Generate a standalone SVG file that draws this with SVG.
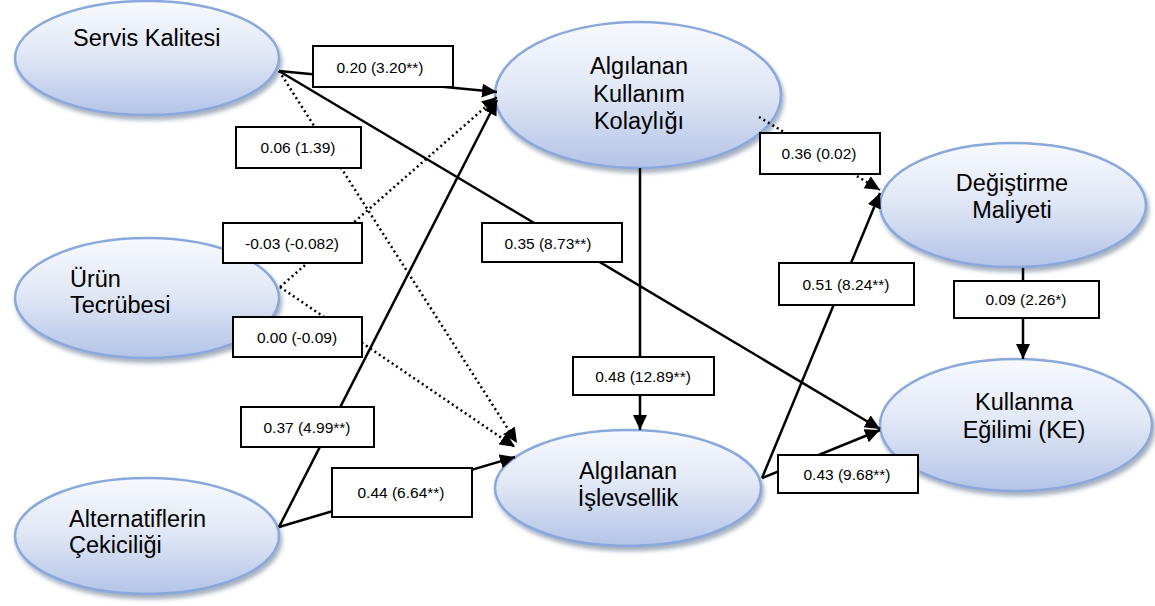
<svg xmlns="http://www.w3.org/2000/svg" width="1155" height="606" viewBox="0 0 1155 606">
<defs>
<linearGradient id="g" x1="0" y1="0" x2="0" y2="1">
<stop offset="0" stop-color="#f7f9fd"/>
<stop offset="0.45" stop-color="#e2e8f6"/>
<stop offset="1" stop-color="#b3c4e7"/>
</linearGradient>
<filter id="sh" x="-10%" y="-10%" width="125%" height="130%">
<feDropShadow dx="2" dy="4" stdDeviation="2" flood-color="#5f6f8a" flood-opacity="0.55"/>
</filter>
<marker id="ah" markerUnits="userSpaceOnUse" markerWidth="16" markerHeight="15" refX="15" refY="7" orient="auto" viewBox="0 0 16 15">
<path d="M0,0 L15,7 L0,14 z" fill="#000"/>
</marker>
</defs>
<style>
.n{fill:url(#g);stroke:#8aa8dc;stroke-width:2.5;filter:url(#sh)}
.t{font-family:"Liberation Sans",Arial,sans-serif;font-size:23.5px;fill:#000}
.c{text-anchor:middle}
.s{fill:none;stroke:#000;stroke-width:2.5;marker-end:url(#ah)}
.d{fill:none;stroke:#000;stroke-width:2.5;stroke-dasharray:2 3.2;marker-end:url(#ah)}
.b{fill:#fff;stroke:#000;stroke-width:2}
.l{font-family:"Liberation Sans",Arial,sans-serif;font-size:15.5px;fill:#000;text-anchor:middle}
</style>
<g id="servis-kalitesi">
<ellipse class="n" cx="147" cy="58" rx="132" ry="57"/>
<text class="t" x="73" y="46">Servis Kalitesi</text>
</g>
<g id="urun-tecrubesi">
<ellipse class="n" cx="147" cy="298" rx="132" ry="60"/>
<text class="t" x="70" y="287">Ürün</text>
<text class="t" x="70" y="313">Tecrübesi</text>
</g>
<g id="alternatiflerin-cekiciligi">
<ellipse class="n" cx="147" cy="536" rx="132" ry="58"/>
<text class="t" x="69" y="527">Alternatiflerin</text>
<text class="t" x="69" y="553">Çekiciliği</text>
</g>
<g id="algilanan-kullanim-kolayligi">
<ellipse class="n" cx="638" cy="95" rx="143" ry="73"/>
<text class="t c" x="639" y="74">Algılanan</text>
<text class="t c" x="639" y="102">Kullanım</text>
<text class="t c" x="639" y="129">Kolaylığı</text>
</g>
<g id="degistirme-maliyeti">
<ellipse class="n" cx="1013" cy="205" rx="133" ry="62"/>
<text class="t c" x="1012" y="191">Değiştirme</text>
<text class="t c" x="1012" y="218">Maliyeti</text>
</g>
<g id="kullanma-egilimi">
<ellipse class="n" cx="1016" cy="425" rx="136" ry="66"/>
<text class="t c" x="1024" y="410">Kullanma</text>
<text class="t c" x="1024" y="438">Eğilimi (KE)</text>
</g>
<g id="algilanan-islevsellik">
<ellipse class="n" cx="628" cy="488" rx="133" ry="58"/>
<text class="t c" x="628" y="479">Algılanan</text>
<text class="t c" x="628" y="506">İşlevsellik</text>
</g>
<g id="connectors">
<path class="s" d="M279,71 L497,92"/>
<path class="s" d="M279,71 L880,429"/>
<path class="d" d="M279,71 L517,443"/>
<path class="d" d="M280,287 L497,97"/>
<path class="d" d="M280,287 L515,447"/>
<path class="s" d="M279,527 L497,100"/>
<path class="s" d="M279,527 L515,457"/>
<path class="s" d="M640,168 L640,430"/>
<path class="d" d="M759,117 L880,190"/>
<path class="s" d="M762,478 L880,193"/>
<path class="s" d="M1023,268 L1023,359"/>
<path class="s" d="M762,478 L880,430"/>
<g id="labels">
<rect class="b" x="313" y="46" width="140" height="41"/><text class="l" x="380" y="73">0.20 (3.20**)</text>
<rect class="b" x="482" y="223" width="140" height="39"/><text class="l" x="548" y="249">0.35 (8.73**)</text>
<rect class="b" x="236" y="127" width="125" height="41"/><text class="l" x="298" y="153">0.06 (1.39)</text>
<rect class="b" x="223" y="223" width="139" height="40"/><text class="l" x="292" y="249">-0.03 (-0.082)</text>
<rect class="b" x="233" y="317" width="129" height="40"/><text class="l" x="297" y="343">0.00 (-0.09)</text>
<rect class="b" x="241" y="407" width="133" height="40"/><text class="l" x="307" y="433">0.37 (4.99**)</text>
<rect class="b" x="332" y="468" width="140" height="49"/><text class="l" x="401" y="498">0.44 (6.64**)</text>
<rect class="b" x="573" y="357" width="141" height="38"/><text class="l" x="643" y="382">0.48 (12.89**)</text>
<rect class="b" x="760" y="133" width="120" height="41"/><text class="l" x="819" y="159">0.36 (0.02)</text>
<rect class="b" x="779" y="263" width="135" height="42"/><text class="l" x="846" y="290">0.51 (8.24**)</text>
<rect class="b" x="954" y="281" width="145" height="37"/><text class="l" x="1026" y="305">0.09 (2.26*)</text>
<rect class="b" x="778" y="455" width="140" height="38"/><text class="l" x="847" y="480">0.43 (9.68**)</text>
</g>
</g>
</svg>
